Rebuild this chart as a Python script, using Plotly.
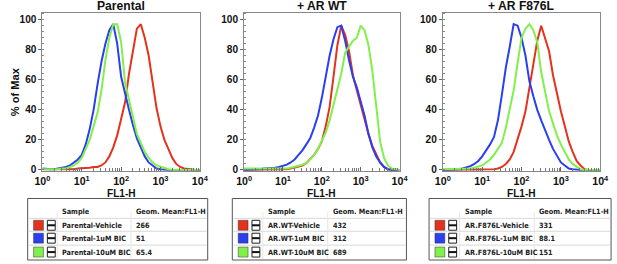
import plotly.graph_objects as go

# target picture size and figure size (figure slightly larger to compensate capture scaling)
W, H = 617, 264
FIG_W, FIG_H = 624, 267

# ---------------- data ----------------
LOG_FL1 = [0.0, 0.1, 0.2, 0.3, 0.4, 0.5, 0.6, 0.7, 0.8, 0.9,
           1.0, 1.1, 1.2, 1.3, 1.4, 1.5, 1.6, 1.7, 1.8, 1.9,
           2.0, 2.1, 2.2, 2.3, 2.4, 2.5, 2.6, 2.7, 2.8, 2.9,
           3.0, 3.1, 3.2, 3.3, 3.4, 3.5, 3.6, 3.7, 3.8, 3.9, 4.0]

PANEL_TITLES = ["Parental", "+ AR WT", "+ AR F876L"]

PAR_VEH = [0.5, 0.5, 0, 0, 0, 0, 0.5, 0.5, 0.5, 1,
           1, 1, 1.5, 2, 2, 3, 5, 9, 15, 23,
           34, 45, 64, 80, 94, 97, 88, 76, 60, 41,
           29, 20, 14, 8, 4, 2, 1, 0.5, 0, 0, 0]
PAR_1UM = [1, 0.5, 0.5, 0.5, 1, 1, 2, 3, 5, 7,
           10, 17, 27, 40, 57, 72, 84, 93, 97, 84,
           62, 50, 40, 30, 21, 15, 9, 5, 3, 1,
           0.5, 0, 0, 0, 0, 0, 0, 0, 0, 0, 0]
PAR_10UM = [0.5, 0.5, 0, 0.5, 0.5, 1, 1, 2, 3, 5,
            8, 14, 20, 29, 38, 53, 73, 88, 97, 97,
            85, 58, 46, 35, 24, 18, 12, 8, 5, 3,
            2, 1, 0.5, 0, 0, 0, 0, 0, 0, 0, 0]

WT_VEH = [0, 0, 0, 0, 0, 0, 0, 0, 0, 0,
          0, 0.5, 1, 1.5, 2, 3, 4.5, 7, 10, 14,
          19, 29, 42, 62, 83, 96, 90, 79, 63, 53,
          43, 33, 24, 16, 10, 5, 2, 0.5, 0, 0, 0]
WT_1UM = [0, 0, 0.5, 0.5, 0.5, 1, 1, 1, 1.5, 2,
          2.5, 3.5, 5, 7, 10, 13, 17, 21, 28, 36,
          48, 62, 76, 87, 95, 96, 86, 73, 62, 55,
          45, 36, 24, 15, 9, 5, 2, 0.5, 0, 0, 0]
WT_10UM = [1, 1, 1, 1, 0.5, 0.5, 0.5, 0.5, 0.5, 0.5,
           1, 1, 1.5, 2, 2.5, 3.5, 4.5, 7, 10, 14,
           19, 25, 33, 43, 53, 64, 78, 82, 86, 88,
           96, 93, 83, 66, 42, 19, 8, 3, 1, 0.5, 0]

F8_VEH = [0, 0, 0, 0, 0, 0, 0, 0, 0, 0,
          0, 0, 0, 0.5, 1, 2, 4, 7, 12, 20,
          29, 39, 55, 70, 86, 96, 88, 79, 63, 50,
          39, 29, 19, 12, 6, 3, 0.5, 0, 0, 0, 0]
F8_1UM = [0, 0, 0, 0.5, 0.5, 1, 1.5, 2.5, 4, 6,
          9, 13, 17, 22, 33, 50, 68, 82, 97, 96,
          88, 76, 59, 49, 40, 33, 26, 20, 14, 9,
          5, 3, 1, 0.5, 0, 0, 0, 0, 0, 0, 0]
F8_10UM = [0.5, 0.5, 0.5, 0.5, 0.5, 0.5, 1, 1, 1.5, 2,
           3, 5, 7, 10, 14, 18, 28, 41, 53, 71,
           88, 94, 97, 93, 85, 65, 51, 39, 31, 23,
           17, 12, 7, 4, 2, 0.5, 0, 0, 0, 0, 0]

PANEL_SERIES = [[PAR_VEH, PAR_1UM, PAR_10UM],
                [WT_VEH, WT_1UM, WT_10UM],
                [F8_VEH, F8_1UM, F8_10UM]]

SAMPLE_NAMES = [["Parental-Vehicle", "Parental-1uM BIC", "Parental-10uM BIC"],
                ["AR.WT-Vehicle", "AR.WT-1uM BIC", "AR.WT-10uM BIC"],
                ["AR.F876L-Vehicle", "AR.F876L-1uM BIC", "AR.F876L-10uM BIC"]]
GEO_MEANS = [["266", "51", "65.4"],
             ["432", "312", "689"],
             ["331", "88.1", "151"]]

COLORS = ["#e5321c", "#2a3ef2", "#80f04a"]

X_TICK_VALS = [1, 10, 100, 1000, 10000]
X_TICK_TEXT = ["<b>10<sup>0</sup></b>", "<b>10<sup>1</sup></b>", "<b>10<sup>2</sup></b>",
               "<b>10<sup>3</sup></b>", "<b>10<sup>4</sup></b>"]
MINOR_VALS = [m * 10 ** k for k in range(4) for m in range(2, 10)]
Y_TICKS = [0, 20, 40, 60, 80, 100]
Y_TICK_TEXT = ["<b>0</b>", "<b>20</b>", "<b>40</b>", "<b>60</b>", "<b>80</b>", "<b>100</b>"]

# ---------------- layout geometry (target pixels) ----------------
PLOT_X = [(35, 195), (240, 398), (442, 602)]
PLOT_Y = (13, 172)
TABLES = [(20, 203, 33, 108), (228, 405, 34, 100), (428, 613, 34, 110)]
TAB_TOP, TAB_BOT = 200, 262
ROW_Y = [213, 227, 240, 254]
ROW_LINES = [220, 233, 247]

def px(x):
    return x / W

def py(y):
    return 1 - y / H

K = FIG_W / W

def fs(v):
    return v * K

FONT = "DejaVu Sans Condensed, Roboto, Liberation Sans, Arial, sans-serif"
FONT_AX = "Liberation Sans, Arial, sans-serif"
TFS = 7.2

fig = go.Figure()
annotations = []
shapes = []

for i in range(3):
    xa = "x" if i == 0 else f"x{i+1}"
    ya = "y" if i == 0 else f"y{i+1}"
    xvals = [10 ** v for v in LOG_FL1]
    for s, ys in enumerate(PANEL_SERIES[i]):
        fig.add_trace(go.Scatter(x=xvals, y=ys, mode="lines",
                                 line=dict(color=COLORS[s], width=2),
                                 xaxis=xa, yaxis=ya, showlegend=False,
                                 hoverinfo="skip"))
    x0, x1 = PLOT_X[i]
    axkey = "xaxis" if i == 0 else f"xaxis{i+1}"
    aykey = "yaxis" if i == 0 else f"yaxis{i+1}"
    fig.layout[axkey] = dict(
        type="log", range=[0, 4], domain=[px(x0), px(x1)], anchor=ya,
        tickvals=X_TICK_VALS, ticktext=X_TICK_TEXT,
        ticks="inside", ticklen=4, tickwidth=1, tickcolor="#666",
        minor=dict(tickvals=MINOR_VALS, ticks="inside", ticklen=2.5, tickcolor="#777"),
        showline=True, linecolor="#888", linewidth=1, mirror=True,
        showgrid=False, zeroline=False, ticklabelstandoff=1,
        tickfont=dict(family=FONT_AX, size=fs(10.5), color="#111"),
    )
    fig.layout[aykey] = dict(
        range=[-0.5, 104.5], domain=[py(PLOT_Y[1]), py(PLOT_Y[0])], anchor=xa,
        tickvals=Y_TICKS, ticktext=Y_TICK_TEXT, ticks="outside", ticklen=3, tickcolor="#666",
        minor=dict(dtick=4, tick0=0, ticks="inside", ticklen=2, tickcolor="#888"),
        showline=True, linecolor="#888", linewidth=1, mirror=True,
        showgrid=False, zeroline=False,
        tickfont=dict(family=FONT_AX, size=fs(10), color="#111"),
    )
    cx = (x0 + x1) / 2
    annotations.append(dict(text="<b>" + PANEL_TITLES[i] + "</b>", x=px(cx), y=py(6),
                            xref="paper", yref="paper", showarrow=False,
                            font=dict(family=FONT_AX, size=fs(12), color="#111"),
                            xanchor="center", yanchor="middle"))
    annotations.append(dict(text="<b>FL1-H</b>", x=px(cx), y=py(195),
                            xref="paper", yref="paper", showarrow=False,
                            font=dict(family=FONT_AX, size=fs(10), color="#111"),
                            xanchor="center", yanchor="middle"))

    tl, tr, sc, gc = TABLES[i]
    shapes.append(dict(type="rect", xref="paper", yref="paper",
                       x0=px(tl), x1=px(tr), y0=py(TAB_BOT), y1=py(TAB_TOP),
                       line=dict(color="#555", width=1), fillcolor="white", layer="below"))
    for ly in ROW_LINES:
        shapes.append(dict(type="line", xref="paper", yref="paper",
                           x0=px(tl + 1), x1=px(tr - 1), y0=py(ly), y1=py(ly),
                           line=dict(color="#d8d8d8", width=1)))
    for cxl in (tl + sc - 3, tl + gc - 3):
        shapes.append(dict(type="line", xref="paper", yref="paper",
                           x0=px(cxl), x1=px(cxl), y0=py(TAB_BOT - 1), y1=py(ROW_LINES[0] - 6),
                           line=dict(color="#e6e6e6", width=1)))
    annotations.append(dict(text="<b>Sample</b>", x=px(tl + sc), y=py(ROW_Y[0]),
                            xref="paper", yref="paper", showarrow=False,
                            xanchor="left", yanchor="middle",
                            font=dict(family=FONT, size=fs(TFS), color="#222")))
    annotations.append(dict(text="<b>Geom. Mean:FL1-H</b>", x=px(tl + gc), y=py(ROW_Y[0]),
                            xref="paper", yref="paper", showarrow=False,
                            xanchor="left", yanchor="middle",
                            font=dict(family=FONT, size=fs(TFS), color="#222")))
    for r in range(3):
        ry = ROW_Y[r + 1]
        shapes.append(dict(type="rect", xref="paper", yref="paper",
                           x0=px(tl + 6), x1=px(tl + 16), y0=py(ry + 5), y1=py(ry - 5),
                           line=dict(color="#333", width=0.5), fillcolor=COLORS[r]))
        shapes.append(dict(type="rect", xref="paper", yref="paper",
                           x0=px(tl + 20), x1=px(tl + 28), y0=py(ry + 5), y1=py(ry - 5),
                           line=dict(color="#222", width=1), fillcolor="white"))
        shapes.append(dict(type="line", xref="paper", yref="paper",
                           x0=px(tl + 20), x1=px(tl + 28), y0=py(ry), y1=py(ry),
                           line=dict(color="#111", width=2)))
        annotations.append(dict(text="<b>" + SAMPLE_NAMES[i][r] + "</b>", x=px(tl + sc), y=py(ry),
                                xref="paper", yref="paper", showarrow=False,
                                xanchor="left", yanchor="middle",
                                font=dict(family=FONT, size=fs(TFS), color="#222")))
        annotations.append(dict(text="<b>" + GEO_MEANS[i][r] + "</b>", x=px(tl + gc), y=py(ry),
                                xref="paper", yref="paper", showarrow=False,
                                xanchor="left", yanchor="middle",
                                font=dict(family=FONT, size=fs(TFS), color="#222")))

annotations.append(dict(text="<b>% of Max</b>", x=px(7), y=py(92), xref="paper", yref="paper",
                        showarrow=False, textangle=-90, xanchor="center", yanchor="middle",
                        font=dict(family=FONT_AX, size=fs(11), color="#111")))

fig.update_layout(width=FIG_W, height=FIG_H, margin=dict(l=0, r=0, t=0, b=0),
                  paper_bgcolor="white", plot_bgcolor="white",
                  annotations=annotations, shapes=shapes)

fig.write_html("out.html", config={"displayModeBar": False, "responsive": False},
               post_script=("document.documentElement.style.margin='0';"
                            "document.documentElement.style.overflow='hidden';"
                            "document.body.style.margin='0';"
                            "document.body.style.overflow='hidden';"))
